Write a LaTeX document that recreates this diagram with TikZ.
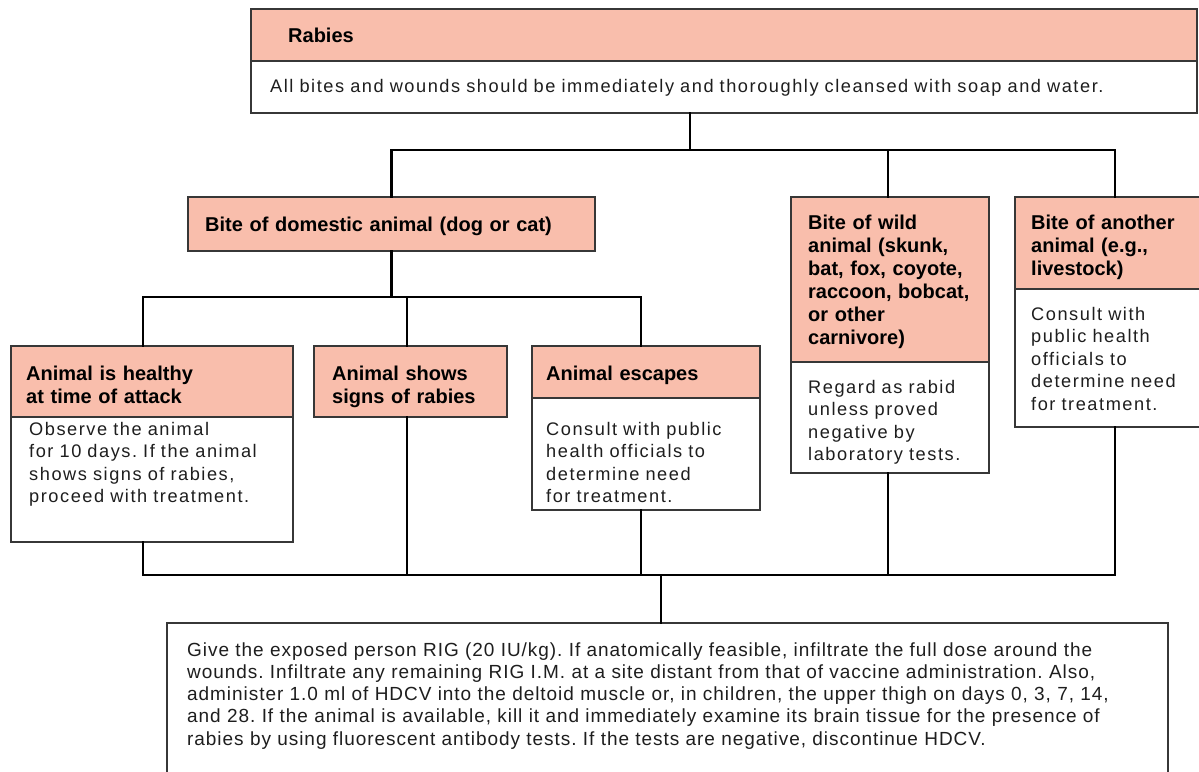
\documentclass[tikz,border=0pt]{standalone}
\usepackage{fontspec}
\setmainfont{Liberation Sans}
\newfontfamily\bodyfont[LetterSpace=8.5]{Liberation Sans}
\newfontfamily\notefont[LetterSpace=5]{Liberation Sans}
\frenchspacing

\definecolor{headfill}{RGB}{249,190,172}
\definecolor{boxline}{RGB}{55,55,55}
\definecolor{bodytext}{RGB}{30,30,30}

\tikzset{
  box/.style={draw=boxline, line width=1.3pt, anchor=north west, inner sep=0pt, outer sep=0pt},
  headbox/.style={box, fill=headfill},
  bodybox/.style={box, fill=white},
  wire/.style={line width=2.8pt, black, line join=miter, line cap=rect},
  headtext/.style={anchor=base west, inner sep=0pt, text width=400pt, align=left,
    font=\fontsize{20}{23}\selectfont\bfseries},
  bodytxt/.style={anchor=base west, inner sep=0pt, text width=1000pt, align=left,
    text=bodytext, font=\bodyfont\fontsize{18.2}{22.6}\selectfont\frenchspacing},
  notetxt/.style={anchor=base west, inner sep=0pt, text width=1000pt, align=left,
    text=bodytext, font=\notefont\fontsize{19}{22.3}\selectfont\frenchspacing},
}

\begin{document}
\begin{tikzpicture}[x=1pt, y=-1pt]
\useasboundingbox (0,0) rectangle (1199,771);
\clip (0,0) rectangle (1199,771);

% bus levels and drop positions
\coordinate (busA) at (0,150);
\coordinate (busB) at (0,297);
\coordinate (busC) at (0,575);
\coordinate (xtop)  at (690,0);
\coordinate (xheal) at (143,0);
\coordinate (xshow) at (407,0);
\coordinate (xesc)  at (641,0);
\coordinate (xwild) at (888,0);
\coordinate (xoth)  at (1115,0);
\coordinate (xbot)  at (661,0);

% boxes
\node[headbox, minimum width=946pt, minimum height=52pt] (tophd) at (251,9) {};
\node[bodybox, minimum width=946pt, minimum height=52pt] (topbd) at (251,61) {};

\node[headbox, minimum width=407pt, minimum height=54pt] (dom) at (188,197) {};

\node[headbox, minimum width=198pt, minimum height=165pt] (wildhd) at (791,197) {};
\node[bodybox, minimum width=198pt, minimum height=111pt] (wildbd) at (791,362) {};

\node[headbox, minimum width=200pt, minimum height=92pt] (othhd) at (1015,197) {};
\node[bodybox, minimum width=200pt, minimum height=138pt] (othbd) at (1015,289) {};

\node[headbox, minimum width=282pt, minimum height=71pt] (healhd) at (11,346) {};
\node[bodybox, minimum width=282pt, minimum height=125pt] (healbd) at (11,417) {};

\node[headbox, minimum width=193pt, minimum height=71pt] (shows) at (314,346) {};

\node[headbox, minimum width=228pt, minimum height=52pt] (eschd) at (532,346) {};
\node[bodybox, minimum width=228pt, minimum height=112pt] (escbd) at (532,398) {};

\node[bodybox, minimum width=1001pt, minimum height=170pt] (final) at (167,623) {};

% connectors
\draw[wire] (topbd.south -| xtop) -- (xtop |- busA);
\draw[wire] (dom.north) -- (dom.north |- busA) -- (xoth |- busA) -- (othhd.north -| xoth);
\draw[wire] (wildhd.north -| xwild) -- (xwild |- busA);

\draw[wire] (dom.south) -- (dom.south |- busB);
\draw[wire] (healhd.north -| xheal) -- (xheal |- busB) -- (xesc |- busB) -- (eschd.north -| xesc);
\draw[wire] (shows.north -| xshow) -- (xshow |- busB);

\draw[wire] (healbd.south -| xheal) -- (xheal |- busC) -- (xoth |- busC) -- (othbd.south -| xoth);
\draw[wire] (shows.south -| xshow) -- (xshow |- busC);
\draw[wire] (escbd.south -| xesc) -- (xesc |- busC);
\draw[wire] (wildbd.south -| xwild) -- (xwild |- busC);
\draw[wire] (xbot |- busC) -- (final.north -| xbot);

% texts
\node[headtext] (t-tophd) at (288,42) {Rabies};
\node[bodytxt] (t-topbd) at (270,92) {All bites and wounds should be immediately and thoroughly cleansed with soap and water.};

\node[headtext] (t-dom) at (205,231) {Bite of domestic animal (dog or cat)};

\node[headtext] (t-wildhd) at (808,229) {Bite of wild\\animal (skunk,\\bat, fox, coyote,\\raccoon, bobcat,\\or other\\carnivore)};
\node[bodytxt, text width=190pt] (t-wildbd) at (808,393) {Regard as rabid\\unless proved\\negative by\\laboratory tests.};

\node[headtext] (t-othhd) at (1031,229) {Bite of another\\animal (e.g.,\\livestock)};
\node[bodytxt, text width=190pt] (t-othbd) at (1031,320) {Consult with\\public health\\officials to\\determine need\\for treatment.};

\node[headtext] (t-healhd) at (26,380) {Animal is healthy\\at time of attack};
\node[bodytxt] (t-healbd) at (29,435) {Observe the animal\\for 10 days. If the animal\\shows signs of rabies,\\proceed with treatment.};

\node[headtext] (t-shows) at (332,380) {Animal shows\\signs of rabies};

\node[headtext] (t-eschd) at (546,380) {Animal escapes};
\node[bodytxt] (t-escbd) at (546,435) {Consult with public\\health officials to\\determine need\\for treatment.};

\node[notetxt] (t-final) at (187,656) {Give the exposed person RIG (20 IU/kg). If anatomically feasible, infiltrate the full dose around the\\
wounds. Infiltrate any remaining RIG I.M. at a site distant from that of vaccine administration. Also,\\
administer 1.0 ml of HDCV into the deltoid muscle or, in children, the upper thigh on days 0, 3, 7, 14,\\
and 28. If the animal is available, kill it and immediately examine its brain tissue for the presence of\\
rabies by using fluorescent antibody tests. If the tests are negative, discontinue HDCV.};
\end{tikzpicture}
\end{document}
